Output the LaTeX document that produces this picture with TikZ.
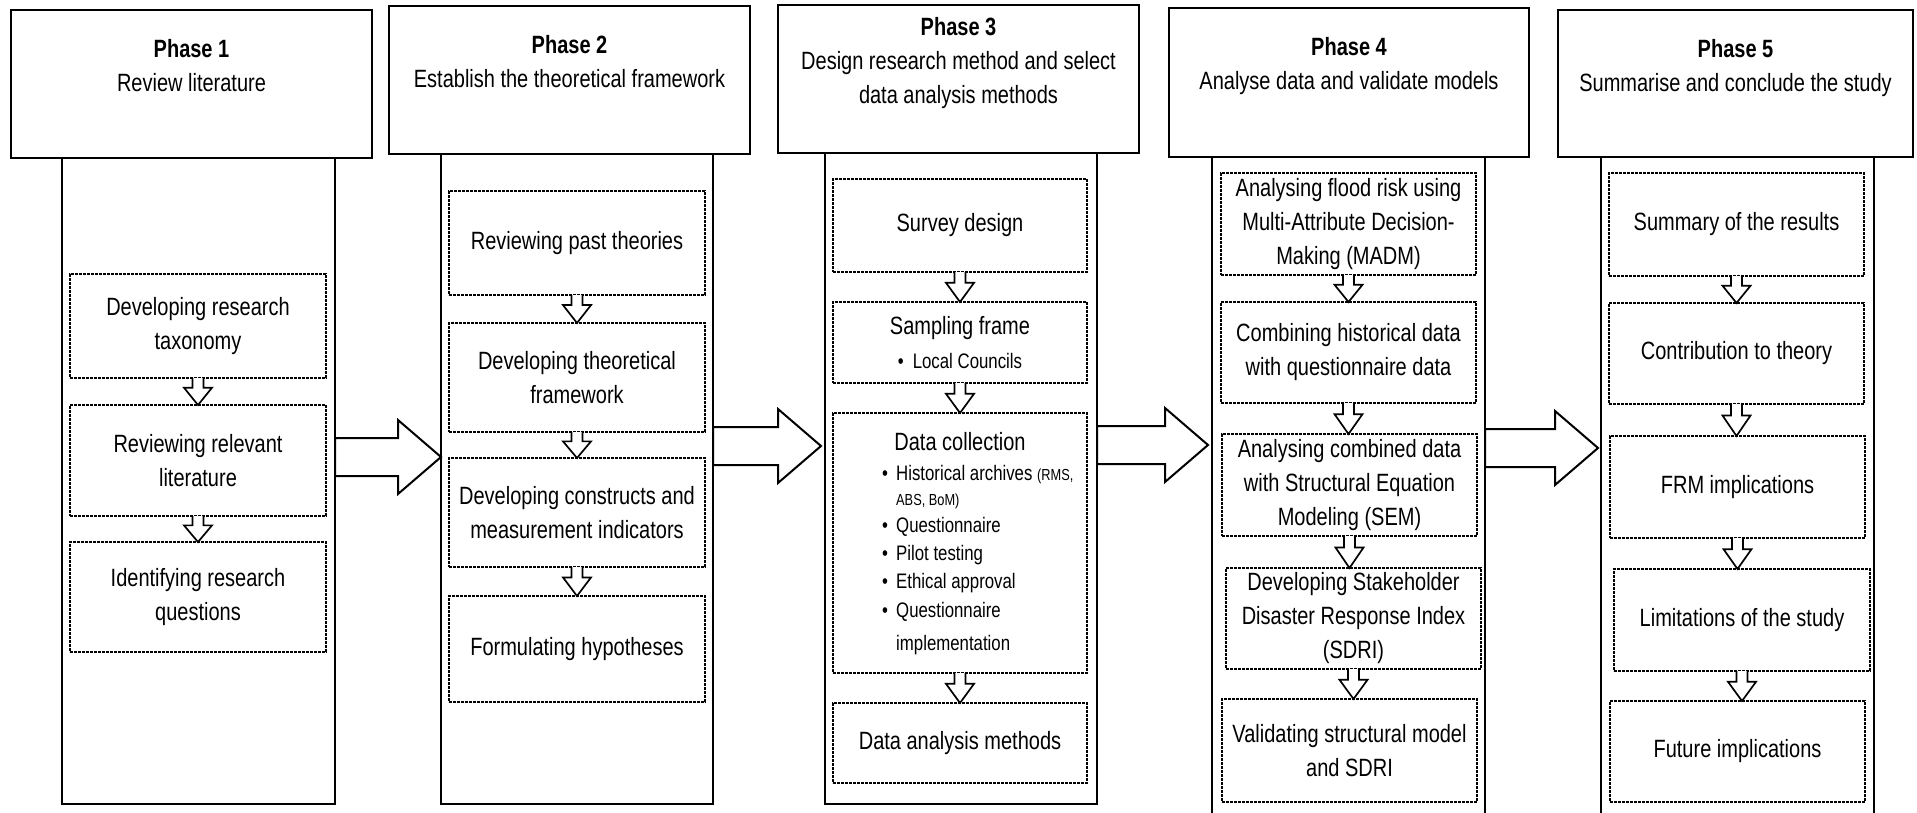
\documentclass[tikz,border=0pt]{standalone}
\usepackage{fontspec}
\setmainfont{Liberation Sans}[FakeStretch=0.8]
\usetikzlibrary{calc}

% hollow arrow from the bottom of one step box to the top of the next
\newcommand\flowdown[2]{%
  \draw[smallarr] let \p1=(#1.south), \p2=(#2.north), \n1={0.36*(\y1-\y2)} in
    ({\x1-5.5pt},\y1) -- ({\x1-5.5pt},{\y1-\n1}) -- ({\x1-14pt},{\y1-\n1})
    -- (\x1,\y2) -- ({\x1+14pt},{\y1-\n1}) -- ({\x1+5.5pt},{\y1-\n1})
    -- ({\x1+5.5pt},\y1);
}
% wide hollow arrow between two phase columns: from, to, height, gap before the tip
\newcommand\phasearrow[4]{%
  \draw[bigarr] let \p1=(#1.east |- 0,#3), \p2=(#2.west |- 0,#3) in
    (\x1,{\y1+19pt}) -- ({\x2-#4pt-43pt},{\y1+19pt}) -- ({\x2-#4pt-43pt},{\y1+37pt})
    -- ({\x2-#4pt},\y1) -- ({\x2-#4pt-43pt},{\y1-37pt}) -- ({\x2-#4pt-43pt},{\y1-19pt})
    -- (\x1,{\y1-19pt}) -- cycle;
}

\begin{document}
\begin{tikzpicture}[x=1pt,y=-1pt,
  headbox/.style={draw=black, line width=2pt, fill=white, inner sep=0pt, outer sep=0pt},
  colbody/.style={draw=black, line width=2pt, fill=white, inner sep=0pt, outer sep=0pt},
  stepbox/.style={draw=black, line width=1.8pt, dash pattern=on 2.6pt off 1.4pt,
    inner sep=0pt, outer sep=0pt, align=center, font=\fontsize{25}{34}\selectfont},
  sz/.style 2 args={minimum width=#1, minimum height=#2},
  headtext/.style={align=center, inner sep=0pt, anchor=north, font=\fontsize{25}{34}\selectfont},
  listtext/.style={align=left, inner sep=0pt, font=\fontsize{21}{28}\selectfont},
  smallarr/.style={draw=black, line width=1.7pt, fill=white, line join=miter},
  bigarr/.style={draw=black, line width=2pt, fill=white, line join=miter},
]
\useasboundingbox (0,0) rectangle (1917,813);
\fill[white] (0,0) rectangle (1917,813);
\clip (0,0) rectangle (1917,813);

% column bodies
\node[colbody, sz={273}{646}] (k1) at (198.5,481) {};
\node[colbody, sz={272}{650}] (k2) at (577,479) {};
\node[colbody, sz={272}{651}] (k3) at (961,478.5) {};
\node[colbody, sz={273}{673}] (k4) at (1348.5,493.5) {};
\node[colbody, sz={273}{673}] (k5) at (1737.5,493.5) {};

% phase headers
\node[headbox, sz={361}{148}] (h1) at (191.5,84) {};
\node[headbox, sz={361}{148}] (h2) at (569.5,80) {};
\node[headbox, sz={361}{148}] (h3) at (958.5,79) {};
\node[headbox, sz={360}{149}] (h4) at (1349,82.5) {};
\node[headbox, sz={355}{147}] (h5) at (1735.5,83.5) {};

\node[headtext] (t1) at (191.5,39) {\textbf{Phase 1}\\Review literature};
\node[headtext] (t2) at (569.5,35) {\textbf{Phase 2}\\Establish the theoretical framework};
\node[headtext] (t3) at (958.5,17) {\textbf{Phase 3}\\Design research method and select\\data analysis methods};
\node[headtext] (t4) at (1349,37) {\textbf{Phase 4}\\Analyse data and validate models};
\node[headtext] (t5) at (1735.5,39) {\textbf{Phase 5}\\Summarise and conclude the study};

% phase 1 steps
\node[stepbox, sz={256}{104}] (a1) at (198,326) {Developing research\\taxonomy};
\node[stepbox, sz={256}{111}] (a2) at (198,460.5) {Reviewing relevant\\literature};
\node[stepbox, sz={256}{110}] (a3) at (198,597) {Identifying research\\questions};

% phase 2 steps
\node[stepbox, sz={256}{104}] (b1) at (577,243) {Reviewing past theories};
\node[stepbox, sz={256}{109}] (b2) at (577,377.5) {Developing theoretical\\framework};
\node[stepbox, sz={256}{109}] (b3) at (577,512.5) {Developing constructs and\\measurement indicators};
\node[stepbox, sz={256}{106}] (b4) at (577,649) {Formulating hypotheses};

% phase 3 steps
\node[stepbox, sz={254}{93}] (c1) at (960,225.5) {Survey design};
\node[stepbox, sz={254}{81}] (c2) at (960,342.5)
  {Sampling frame\\{\fontsize{21}{28}\selectfont\textbullet\hspace{9pt}Local Councils}};
\node[stepbox, sz={254}{260}] (c3) at (960,543) {};
\node[inner sep=0pt, anchor=base, font=\fontsize{25}{34}\selectfont] (c3title) at (960,450) {Data collection};
\newcommand\bul{\makebox[14pt][l]{\textbullet}}
\node[listtext, anchor=north west] (c3list) at (882,465)
  {\bul Historical archives {\fontsize{16}{20}\selectfont(RMS,}\\[-3pt]
   \hspace*{14pt}{\fontsize{16}{20}\selectfont ABS, BoM)}\\[-1pt]
   \bul Questionnaire\\
   \bul Pilot testing\\
   \bul Ethical approval\\[1pt]
   \bul Questionnaire\\[5pt]
   \hspace*{14pt}implementation};
\node[stepbox, sz={254}{80}] (c4) at (960,743) {Data analysis methods};

% phase 4 steps
\node[stepbox, sz={255}{102}] (d1) at (1348.5,224) {Analysing flood risk using\\Multi-Attribute Decision-\\Making (MADM)};
\node[stepbox, sz={255}{101}] (d2) at (1348.5,352.5) {Combining historical data\\with questionnaire data};
\node[stepbox, sz={255}{102}] (d3) at (1349.5,485) {Analysing combined data\\with Structural Equation\\Modeling (SEM)};
\node[stepbox, sz={255}{101}] (d4) at (1353.5,618.5) {Developing Stakeholder\\Disaster Response Index\\(SDRI)};
\node[stepbox, sz={255}{103}] (d5) at (1349.5,750.5) {Validating structural model\\and SDRI};

% phase 5 steps
\node[stepbox, sz={255}{103}] (e1) at (1736.5,224.5) {Summary of the results};
\node[stepbox, sz={255}{101}] (e2) at (1736.5,353.5) {Contribution to theory};
\node[stepbox, sz={255}{102}] (e3) at (1737.5,487) {FRM implications};
\node[stepbox, sz={256}{102}] (e4) at (1742,620) {Limitations of the study};
\node[stepbox, sz={255}{101}] (e5) at (1737.5,751.5) {Future implications};

% arrows inside the columns
\flowdown{a1}{a2}
\flowdown{a2}{a3}
\flowdown{b1}{b2}
\flowdown{b2}{b3}
\flowdown{b3}{b4}
\flowdown{c1}{c2}
\flowdown{c2}{c3}
\flowdown{c3}{c4}
\flowdown{d1}{d2}
\flowdown{d2}{d3}
\flowdown{d3}{d4}
\flowdown{d4}{d5}
\flowdown{e1}{e2}
\flowdown{e2}{e3}
\flowdown{e3}{e4}
\flowdown{e4}{e5}

% arrows between the phases
\phasearrow{k1}{k2}{457}{0}
\phasearrow{k2}{k3}{446}{4}
\phasearrow{k3}{k4}{445}{4}
\phasearrow{k4}{k5}{448}{3}
\end{tikzpicture}
\end{document}
